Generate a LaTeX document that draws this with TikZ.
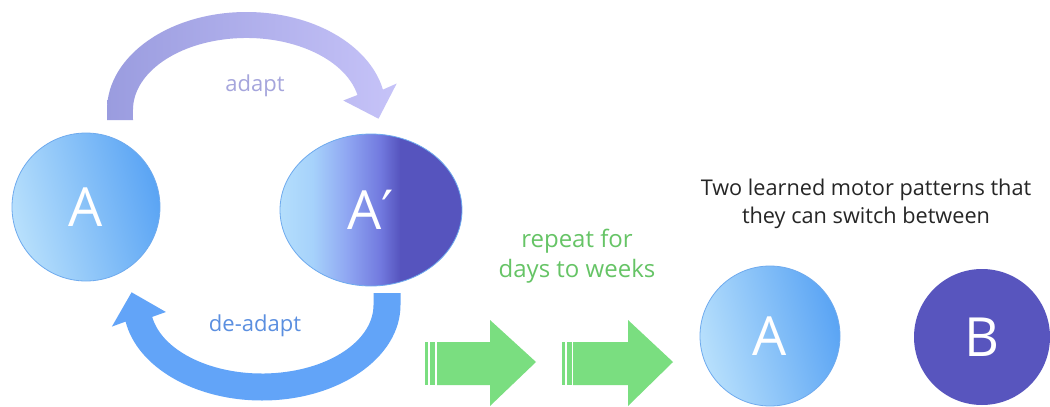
\documentclass[tikz,border=0pt]{standalone}
\usepackage{fontspec}
\setmainfont{Open Sans}
\newfontfamily\dvs{DejaVu Sans}
\usetikzlibrary{shapes.geometric}
\definecolor{clight}{HTML}{B8E0FC}
\definecolor{cdark}{HTML}{5AA4F4}
\definecolor{alight}{HTML}{B4DEFC}
\definecolor{alight2}{HTML}{A6D2FB}
\definecolor{amid}{HTML}{8FA6F2}
\definecolor{amid2}{HTML}{727ADF}
\definecolor{adark}{HTML}{5654BE}
\definecolor{bdark}{HTML}{5855BE}
\definecolor{adaptL}{HTML}{9A9CDF}
\definecolor{adaptR}{HTML}{C6C3F8}
\definecolor{adapttxt}{HTML}{A5A5DC}
\definecolor{deadapt}{HTML}{62A4F8}
\definecolor{deadapttxt}{HTML}{5B8FE0}
\definecolor{garrow}{HTML}{7ADE80}
\definecolor{gtext}{HTML}{66C466}
\definecolor{edge}{HTML}{6EAAEE}
\pgfdeclarehorizontalshading{ashade}{100bp}{color(0bp)=(clight); color(25bp)=(clight); color(75bp)=(cdark); color(100bp)=(cdark)}
\pgfdeclarehorizontalshading{aprimeshade}{100bp}{color(0bp)=(alight); color(25bp)=(alight); color(34bp)=(alight2); color(43.5bp)=(amid); color(52.5bp)=(amid2); color(58bp)=(adark); color(100bp)=(adark)}
\begin{document}
\begin{tikzpicture}[x=1pt,y=-1pt,
  bigletter/.style={text=white, font=\fontsize{54}{60}\selectfont, inner sep=0pt},
  bluecircle/.style={circle, minimum size=#1, shade, shading=ashade, shading angle=15, draw=edge, line width=0.8pt, bigletter},
  greenarrow/.style={fill=garrow, draw=none},
  lbl/.style={font=\fontsize{22}{26}\selectfont, inner sep=0pt},
  gtxt/.style={font=\fontsize{24}{30}\selectfont, text=gtext, align=center, inner sep=0pt},
  ttl/.style={font=\fontsize{21.7}{28}\selectfont, text=black!85, align=center, inner sep=0pt}]
\useasboundingbox (0,0) rectangle (1050,407);
\fill[white] (0,0) rectangle (1050,407);

% adapt arrow
\shade[left color=adaptL, right color=adaptR]
  (107,120) -- (107,110) arc[start angle=180, end angle=348, x radius=139.5, y radius=98]
  -- (396.7,83.5) -- (378.5,118.7) -- (343.3,100.5) -- (357.5,95.0)
  arc[start angle=348, end angle=180, x radius=113.5, y radius=72]
  -- (133,120) -- cycle;

% de-adapt arrow
\fill[deadapt]
  (400.5,293) -- (400.5,305) arc[start angle=0, end angle=170, x radius=138.5, y radius=95.5]
  -- (111.9,326.6) -- (131.6,292.3) -- (165.9,312.0) -- (152.2,316.9)
  arc[start angle=170, end angle=0, x radius=111.5, y radius=68.5]
  -- (373.5,293) -- cycle;

% nodes
\node[bluecircle=148pt] (A) at (86,207) {A};
\node[ellipse, minimum width=182pt, minimum height=152pt, shade, shading=aprimeshade, draw=edge, line width=0.8pt, bigletter] (Ap) at (371,210) {A{\dvs\char"2032}};
\node[bluecircle=140pt] (A2) at (770,336) {A};
\node[circle, minimum size=136pt, fill=bdark, bigletter] (B) at (982,337) {B};

% labels
\node[lbl, text=adapttxt] (adapt) at (255,86) {adapt};
\node[lbl, text=deadapttxt] (deadapt) at (255,326) {de-adapt};
\node[gtxt] (repeat) at (577,256) {repeat for\\days to weeks};
\node[ttl] (title) at (866,204) {Two learned motor patterns that\\they can switch between};

% green arrows
\fill[greenarrow] (425,342) rectangle (428,385);
\fill[greenarrow] (430,342) rectangle (435,385);
\fill[greenarrow] (437,342) -- (490,342) -- (490,320) -- (536,362) -- (490,406) -- (490,385) -- (437,385) -- cycle;
\fill[greenarrow] (562,342) rectangle (565,385);
\fill[greenarrow] (567,342) rectangle (572,385);
\fill[greenarrow] (573,342) -- (628,342) -- (628,320) -- (673,362) -- (628,406) -- (628,385) -- (573,385) -- cycle;
\end{tikzpicture}
\end{document}
